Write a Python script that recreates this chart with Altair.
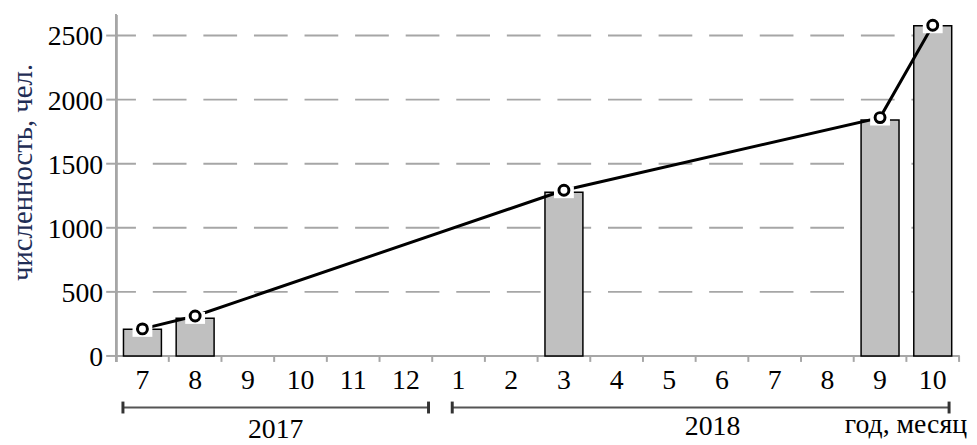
import altair as alt
import pandas as pd

periods = ["2017-07", "2017-08", "2017-09", "2017-10", "2017-11", "2017-12",
           "2018-01", "2018-02", "2018-03", "2018-04", "2018-05", "2018-06",
           "2018-07", "2018-08", "2018-09", "2018-10"]
month_labels = ["7", "8", "9", "10", "11", "12",
                "1", "2", "3", "4", "5", "6", "7", "8", "9", "10"]
data_periods = ["2017-07", "2017-08", "2018-03", "2018-09", "2018-10"]
bar_values = [209, 294, 1277, 1842, 2577]
line_values = [211, 312, 1293, 1860, 2580]
y_ticks = [0, 500, 1000, 1500, 2000, 2500]
years = ["2017", "2018"]
year_start = ["2017-07", "2018-01"]
year_end = ["2017-12", "2018-10"]
year_label_at = ["2017-10", "2018-06"]
y_title = "численность, чел."
x_title = "год, месяц"

FONT = "Liberation Serif, Times New Roman, serif"
GRAY = "#a6a6a6"
W, H = 850, 344

df = pd.DataFrame({"period": data_periods, "bar": bar_values, "line": line_values})
xdf = pd.DataFrame({"period": periods, "lab": month_labels})
ydf = pd.DataFrame({"v": y_ticks, "lab": [str(v) for v in y_ticks]})

xscale = alt.Scale(domain=periods, paddingInner=0, paddingOuter=0)
yscale = alt.Scale(domain=[0, 2662], nice=False, zero=True)


def X(f="period:N", **kw):
    return alt.X(f, scale=xscale, sort=periods, axis=None, **kw)


def Y(f, **kw):
    return alt.Y(f, scale=yscale, axis=None, **kw)


layers = []

# y grid (dashed, not at zero)
layers.append(alt.Chart(ydf).transform_filter("datum.v > 0").mark_rule(
    color=GRAY, strokeWidth=2, strokeDash=[34, 17], strokeDashOffset=14).encode(
    y=Y("v:Q"), x=alt.value(0), x2=alt.value(W)))
# y ticks and labels
layers.append(alt.Chart(ydf).mark_rule(color=GRAY, strokeWidth=2).encode(
    y=Y("v:Q"), x=alt.value(-10), x2=alt.value(0)))
layers.append(alt.Chart(ydf).mark_text(font=FONT, fontSize=28, color="black",
                                       align="right", baseline="middle", dy=2).encode(
    y=Y("v:Q"), x=alt.value(-13), text="lab:N"))
# x ticks at band boundaries and labels
layers.append(alt.Chart(xdf).mark_rule(color=GRAY, strokeWidth=2).encode(
    x=X(bandPosition=1), y=alt.value(H), y2=alt.value(H + 6)))
layers.append(alt.Chart(xdf).mark_text(font=FONT, fontSize=28, color="black",
                                       align="center", baseline="alphabetic").encode(
    x=X(bandPosition=0.5), y=alt.value(H + 33), text="lab:N"))
# axis lines
layers.append(alt.Chart(xdf).mark_rule(color=GRAY, strokeWidth=2).encode(
    x=alt.value(0), y=alt.value(0), y2=alt.value(H + 6)))
layers.append(alt.Chart(xdf).mark_rule(color=GRAY, strokeWidth=2).encode(
    x=alt.value(0), x2=alt.value(W), y=alt.value(H)))

base = alt.Chart(df)
layers.append(base.mark_bar(fill="#c0c0c0", stroke="black", strokeWidth=1.5,
                            width={"band": 0.72}).encode(x=X(), y=Y("bar:Q")))
layers.append(base.mark_line(color="black", strokeWidth=3).encode(x=X(), y=Y("line:Q")))
layers.append(base.mark_point(shape="M-1,-0.4L1,-0.4L1,0.8L-1,0.8Z", size=400,
                              filled=True, fill="white", strokeWidth=0, opacity=1).encode(
    x=X(), y=Y("line:Q")))
layers.append(base.mark_point(shape="circle", size=100, filled=True, fill="white",
                              stroke="black", strokeWidth=3, opacity=1).encode(
    x=X(), y=Y("line:Q")))

# year brackets
bracket_pos = [(0.13, 0.93), (0.38, 0.81)]
label_band = [0.03, 0.32]
label_base = [427, 424]
for i in range(len(years)):
    yrdf = pd.DataFrame({"year": [years[i]], "start": [year_start[i]],
                         "end": [year_end[i]], "lab": [year_label_at[i]]})
    bs, be = bracket_pos[i]
    yc = alt.Chart(yrdf)
    layers.append(yc.mark_rule(color="#555555", strokeWidth=2).encode(
        x=X("start:N", bandPosition=bs),
        x2=alt.X2("end:N", bandPosition=be),
        y=alt.value(396),
    ))
    for fld, bp in (("start", bs), ("end", be)):
        layers.append(yc.mark_rule(color="#333333", strokeWidth=3).encode(
            x=X(f"{fld}:N", bandPosition=bp),
            y=alt.value(390), y2=alt.value(402),
        ))
    layers.append(yc.mark_text(font=FONT, fontSize=28, color="black",
                               baseline="alphabetic", align="center").encode(
        x=X("lab:N", bandPosition=label_band[i]),
        y=alt.value(label_base[i]),
        text="year:N",
    ))

tdf = pd.DataFrame({"xt": [x_title], "yt": [y_title], "at": [periods[-1]]})
tc = alt.Chart(tdf)
layers.append(tc.mark_text(font=FONT, fontSize=28, color="black",
                           baseline="alphabetic", align="right", dx=8).encode(
    x=X("at:N", bandPosition=1), y=alt.value(422), text="xt:N",
))
layers.append(tc.mark_text(font=FONT, fontSize=29, color="#1F2D55", angle=270,
                           baseline="alphabetic", align="center").encode(
    x=alt.value(-85), y=alt.value(159), text="yt:N",
))

chart = alt.layer(*layers).properties(
    width=W, height=H,
    autosize=alt.AutoSizeParams(type="none"),
    padding={"left": 109, "top": 5, "right": 10, "bottom": 95},
).configure_view(stroke=None)

chart.save("out.html", embed_options={"renderer": "svg", "actions": False})
